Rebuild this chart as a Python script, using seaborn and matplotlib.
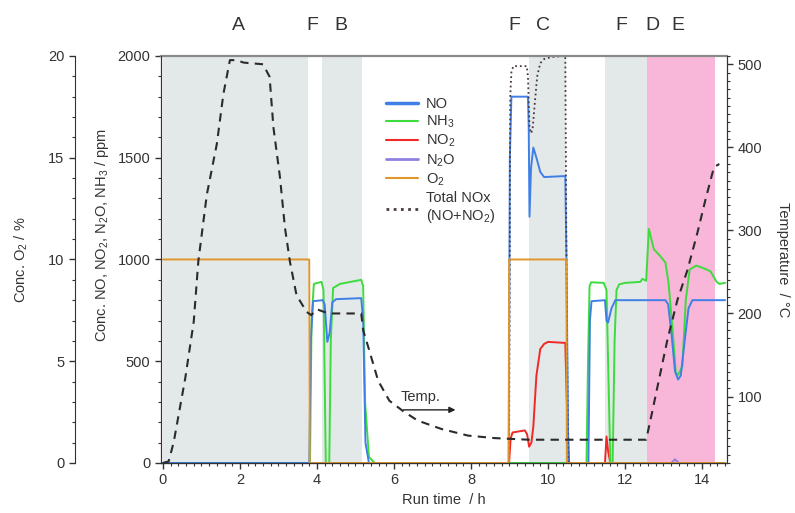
import matplotlib
matplotlib.use("Agg")
import matplotlib.pyplot as plt
from matplotlib.lines import Line2D
from matplotlib.ticker import MultipleLocator
import seaborn as sns

# run time / h and concentrations / ppm
t_no = [0, 3.80, 3.84, 3.90, 4.15, 4.20, 4.27, 4.33, 4.40, 4.50, 5.15, 5.20, 5.26, 5.35,
        8.98, 9.01, 9.05, 9.48, 9.50, 9.52, 9.56, 9.62, 9.70, 9.80, 9.90, 10.45, 10.48, 10.53,
        11.05, 11.09, 11.13, 11.48, 11.52, 11.56, 11.65, 11.75, 13.05, 13.12, 13.20, 13.30,
        13.38, 13.45, 13.55, 13.65, 13.75, 14.6]
no = [0, 0, 600, 795, 800, 780, 595, 640, 790, 805, 810, 700, 100, 0,
      0, 1500, 1800, 1800, 1650, 1210, 1450, 1550, 1500, 1430, 1405, 1410, 1000, 0,
      0, 700, 795, 800, 700, 690, 760, 800, 800, 780, 650, 450,
      410, 430, 600, 760, 800, 800]

t_nh3 = [0, 3.82, 3.86, 3.92, 4.12, 4.17, 4.23, 4.32, 4.36, 4.42, 4.60, 5.15, 5.20, 5.25,
         5.35, 5.5, 11.0, 11.04, 11.08, 11.12, 11.45, 11.52, 11.62, 11.68, 11.73, 11.78,
         11.85, 12.0, 12.4, 12.45, 12.55, 12.62, 12.66, 12.75, 12.9, 13.05, 13.13, 13.23,
         13.32, 13.38, 13.49, 13.58, 13.68, 13.85, 14.0, 14.22, 14.38, 14.45, 14.6]
nh3 = [0, 0, 700, 880, 890, 850, 0, 0, 600, 860, 880, 900, 870, 300,
       30, 0, 0, 500, 870, 888, 885, 850, 0, 0, 600, 850,
       878, 885, 890, 905, 895, 1150, 1120, 1050, 1020, 985, 886, 671,
       443, 433, 474, 803, 950, 970, 960, 942, 890, 880, 885]

t_no2 = [0, 8.99, 9.03, 9.08, 9.40, 9.46, 9.51, 9.57, 9.62, 9.70, 9.80, 9.90, 10.0, 10.45,
         10.49, 10.55, 11.48, 11.52, 11.56, 11.62, 14.6]
no2 = [0, 0, 120, 150, 160, 140, 80, 100, 180, 430, 560, 585, 595, 590,
       300, 0, 0, 130, 60, 0, 0]

t_n2o = [0, 13.2, 13.3, 13.4, 14.6]
n2o = [0, 0, 18, 0, 0]

# O2 / %
t_o2 = [0, 3.80, 3.81, 8.98, 8.99, 10.48, 10.49, 14.6]
o2 = [10, 10, 0, 0, 10, 10, 0, 0]

# Total NOx = NO + NO2 / ppm
t_tot = [8.99, 9.02, 9.05, 9.10, 9.45, 9.48, 9.52, 9.56, 9.60, 9.65, 9.72, 9.80, 9.90,
         10.10, 10.45, 10.48, 10.52]
tot = [0, 1800, 1920, 1950, 1950, 1900, 1650, 1620, 1640, 1750, 1900, 1965, 1985,
       1995, 2000, 1000, 0]

# temperature / degC
t_temp = [0, 0.15, 0.28, 0.58, 0.80, 0.92, 1.14, 1.40, 1.57, 1.74, 1.9, 2.1, 2.6, 2.77,
          2.87, 3.04, 3.17, 3.30, 3.47, 3.73, 3.85, 4.0, 4.3, 5.15, 5.20, 5.33, 5.59, 5.88,
          6.25, 6.62, 7.23, 7.92, 8.6, 9.5, 12.55, 12.7, 12.84, 13.10, 13.36, 13.62, 13.88,
          14.09, 14.31, 14.45]
temp = [20, 22, 45, 122, 190, 263, 343, 404, 464, 505, 505, 502, 500, 485,
        424, 364, 303, 262, 222, 202, 198, 205, 200, 200, 180, 160, 119, 95,
        82, 71, 61, 53, 50, 48, 48, 80, 111, 168, 216, 252, 297,
        337, 376, 380]

# experiment phases (start, end, colour) and their top labels
phase_start = [0, 4.12, 9.51, 11.48, 12.56]
phase_end = [3.78, 5.17, 10.47, 12.56, 14.35]
phase_color = ["#e3e8e8", "#e3e8e8", "#e3e8e8", "#e3e8e8", "#f8b6d8"]
top_labels = ["A", "F", "B", "F", "C", "F", "D", "E"]
top_label_x = [1.97, 3.89, 4.62, 9.13, 9.88, 11.9, 12.7, 13.38]

c_no = "#3f7fe6"
c_nh3 = "#3ddc3d"
c_no2 = "#f02828"
c_n2o = "#9080e0"
c_o2 = "#e0962e"
c_tot = "#4a3a42"
c_temp = "#2b2b2b"

sns.set_style("ticks")
plt.rcParams["font.family"] = ["Liberation Sans", "DejaVu Sans"]
plt.rcParams["mathtext.default"] = "regular"
plt.rcParams["axes.edgecolor"] = "#333333"
plt.rcParams["xtick.color"] = "#333333"
plt.rcParams["ytick.color"] = "#333333"
plt.rcParams["text.color"] = "#333333"
plt.rcParams["axes.labelcolor"] = "#333333"

fig = plt.figure(figsize=(7.95, 5.13), dpi=100)
ax = fig.add_axes([0.2025, 0.0975, 0.712, 0.7934])

for s, e, c in zip(phase_start, phase_end, phase_color):
    ax.axvspan(s, e, color=c, lw=0, zorder=0)

kw = dict(ax=ax, estimator=None, sort=False, legend=False)
sns.lineplot(x=t_n2o, y=n2o, color=c_n2o, lw=1.4, **kw)
sns.lineplot(x=t_no2, y=no2, color=c_no2, lw=1.4, **kw)
sns.lineplot(x=t_nh3, y=nh3, color=c_nh3, lw=1.4, **kw)
sns.lineplot(x=t_no, y=no, color=c_no, lw=1.4, **kw)
sns.lineplot(x=t_tot, y=tot, color=c_tot, lw=1.3, linestyle=(0, (1, 1.6)), **kw)

ax.set_xlim(-0.05, 14.65)
ax.set_ylim(0, 2000)
ax.xaxis.set_major_locator(MultipleLocator(2))
ax.xaxis.set_minor_locator(MultipleLocator(0.2))
ax.yaxis.set_major_locator(MultipleLocator(500))
ax.yaxis.set_minor_locator(MultipleLocator(100))
ax.tick_params(which="both", direction="out", labelsize=10.5)
ax.tick_params(which="major", length=4, width=1)
ax.tick_params(which="minor", length=2.5, width=0.8)
ax.spines["top"].set_color("#8a8a8a")
ax.spines["top"].set_linewidth(1.6)
ax.set_xlabel("Run time  / h", fontsize=10.5)
ax.set_ylabel("Conc. NO, NO$_2$, N$_2$O, NH$_3$ / ppm", fontsize=10.5)
ax.yaxis.set_label_coords(-0.088, 0.56)

# O2 axis on the far left
ax_o2 = ax.twinx()
ax_o2.spines["left"].set_position(("outward", 62))
ax_o2.spines["left"].set_visible(True)
ax_o2.spines["right"].set_visible(False)
ax_o2.spines["top"].set_visible(False)
ax_o2.yaxis.set_ticks_position("left")
ax_o2.yaxis.set_label_position("left")
sns.lineplot(x=t_o2, y=o2, color=c_o2, lw=1.4, ax=ax_o2, estimator=None, sort=False, legend=False)
ax_o2.set_ylim(0, 20)
ax_o2.yaxis.set_major_locator(MultipleLocator(5))
ax_o2.yaxis.set_minor_locator(MultipleLocator(1))
ax_o2.tick_params(which="both", direction="out", labelsize=10.5)
ax_o2.tick_params(which="major", length=4, width=1)
ax_o2.tick_params(which="minor", length=2.5, width=0.8)
ax_o2.set_ylabel("Conc. O$_2$ / %", fontsize=10.5, labelpad=13)

# temperature axis on the right
ax_t = ax.twinx()
ax_t.spines["right"].set_visible(True)
ax_t.spines["top"].set_visible(False)
sns.lineplot(x=t_temp, y=temp, color=c_temp, lw=1.5, linestyle=(0, (4, 3)), ax=ax_t,
             estimator=None, sort=False, legend=False)
ax_t.set_ylim(20, 510)
ax_t.yaxis.set_major_locator(MultipleLocator(100))
ax_t.yaxis.set_minor_locator(MultipleLocator(10))
ax_t.tick_params(which="both", direction="out", labelsize=10.5)
ax_t.tick_params(which="major", length=4, width=1)
ax_t.tick_params(which="minor", length=2.5, width=0.8)
ax_t.set_ylabel("Temperature  / \u00b0C", fontsize=10.5, rotation=-90, labelpad=20)

for lab, xl in zip(top_labels, top_label_x):
    ax.text(xl, 1.074, lab, transform=ax.get_xaxis_transform(), ha="center", va="center",
            fontsize=14)

ax.annotate("", xy=(7.67, 261), xytext=(6.17, 261),
            arrowprops=dict(arrowstyle="-|>", color="#222222", lw=1, mutation_scale=9))
ax.text(6.69, 325, "Temp.", ha="center", va="center", fontsize=10.5)

handles = [
    Line2D([], [], color=c_no, lw=2.5),
    Line2D([], [], color=c_nh3, lw=1.5),
    Line2D([], [], color=c_no2, lw=1.5),
    Line2D([], [], color=c_n2o, lw=2),
    Line2D([], [], color=c_o2, lw=1.5),
    Line2D([], [], color=c_tot, lw=2, linestyle=(0, (1, 1.6))),
]
labels = ["NO", "NH$_3$", "NO$_2$", "N$_2$O", "O$_2$", "Total NOx\n(NO+NO$_2$)"]
ax.legend(handles, labels, loc="upper left", bbox_to_anchor=(0.38, 0.925), frameon=False,
          fontsize=10.5, handlelength=2.2, handletextpad=0.5, labelspacing=0.2,
          borderpad=0.2)

fig.savefig("out.png", dpi=100)
